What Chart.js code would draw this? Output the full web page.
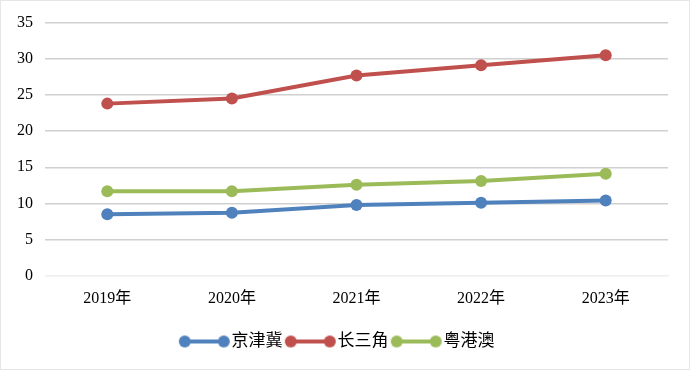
<!DOCTYPE html>
<html lang="zh">
<head>
<meta charset="utf-8">
<title>京津冀 长三角 粤港澳</title>
<script src="https://cdn.jsdelivr.net/npm/chart.js@4.4.1/dist/chart.umd.min.js"></script>
<style>
  body { margin: 0; background: #fff; }
  #wrap { width: 690px; height: 370px; box-sizing: border-box; border: 1px solid #e6e6e6; }
</style>
</head>
<body>
<div id="wrap"><canvas id="chart" width="688" height="368"></canvas></div>
<script>
var years = ["2019年", "2020年", "2021年", "2022年", "2023年"];
var jingjinji = [8.5, 8.7, 9.8, 10.1, 10.4];
var changsanjiao = [23.8, 24.5, 27.7, 29.1, 30.5];
var yuegangao = [11.7, 11.7, 12.6, 13.1, 14.1];

var serif = "'Liberation Serif', 'Times New Roman', 'Noto Sans CJK SC', serif";

// line-with-two-dots icon like the Excel legend (left part of canvas left empty on purpose)
function legendIcon(color) {
  var c = document.createElement('canvas');
  c.width = 60; c.height = 14;
  var g = c.getContext('2d');
  g.strokeStyle = color; g.lineWidth = 4;
  g.beginPath(); g.moveTo(14, 7); g.lineTo(53, 7); g.stroke();
  g.fillStyle = color;
  g.beginPath(); g.arc(14, 7, 6, 0, Math.PI * 2); g.fill();
  g.beginPath(); g.arc(53, 7, 6, 0, Math.PI * 2); g.fill();
  return c;
}

function series(label, data, color) {
  return {
    label: label,
    data: data,
    borderColor: color,
    backgroundColor: color,
    borderWidth: 4,
    pointRadius: 6,
    pointHoverRadius: 6,
    pointBorderWidth: 0,
    pointStyle: 'circle',
    tension: 0,
    icon: legendIcon(color)
  };
}

new Chart(document.getElementById('chart'), {
  type: 'line',
  data: {
    labels: years,
    datasets: [
      series('京津冀', jingjinji, '#4f81bd'),
      series('长三角', changsanjiao, '#c0504d'),
      series('粤港澳', yuegangao, '#9bbb59')
    ]
  },
  options: {
    responsive: false,
    animation: false,
    layout: { padding: { top: 15, right: 21, bottom: 9, left: 4 } },
    plugins: {
      tooltip: { enabled: false },
      legend: {
        position: 'bottom',
        labels: {
          usePointStyle: true,
          pointStyleWidth: 44.5,
          padding: 2,
          color: '#000',
          font: { family: serif, size: 17 },
          generateLabels: function (chart) {
            return chart.data.datasets.map(function (ds, i) {
              return {
                text: ds.label,
                pointStyle: ds.icon,
                fillStyle: ds.borderColor,
                strokeStyle: ds.borderColor,
                lineWidth: 0,
                hidden: false,
                datasetIndex: i,
                fontColor: '#000'
              };
            });
          }
        }
      }
    },
    scales: {
      x: {
        offset: true,
        grid: { display: false },
        border: { display: true, color: '#eeeeee', width: 1 },
        ticks: { color: '#000', padding: 5, font: { family: serif, size: 16 } },
        afterFit: function (scale) { scale.height += 18; } // gap between year labels and legend
      },
      y: {
        min: 0,
        max: 35,
        ticks: { stepSize: 5, color: '#000', padding: 12, font: { family: serif, size: 16 } },
        border: { display: false },
        grid: {
          drawTicks: false,
          lineWidth: 1.5,
          color: function (ctx) { return ctx.tick && ctx.tick.value === 0 ? '#eeeeee' : '#d0d0d0'; }
        }
      }
    }
  }
});
</script>
</body>
</html>
